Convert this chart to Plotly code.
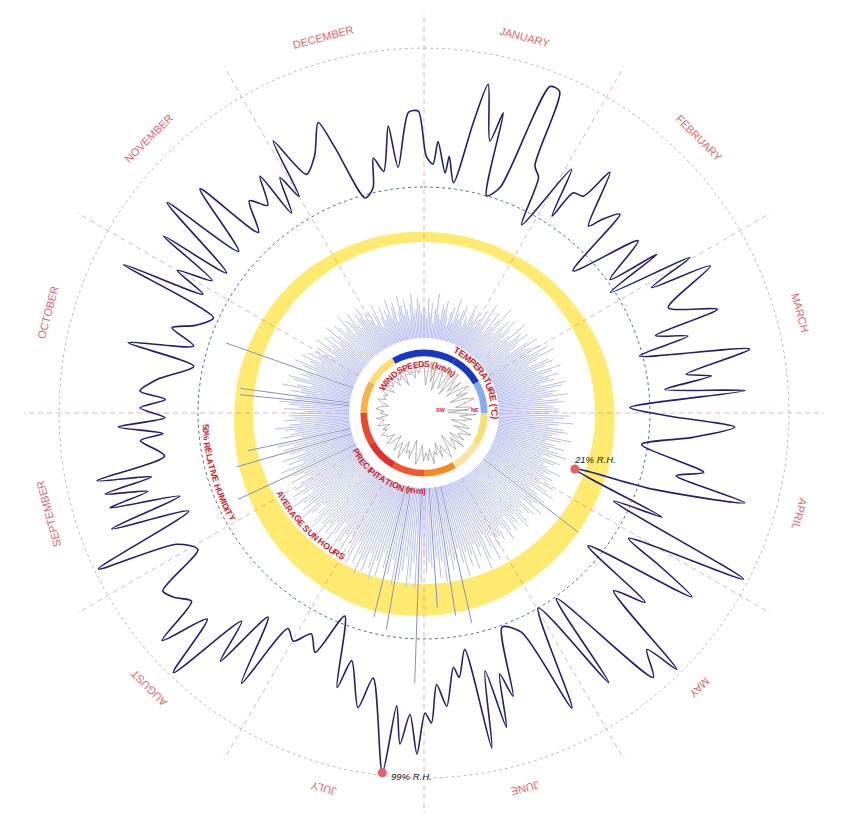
import math
import plotly.graph_objects as go

# ---------------- canvas / geometry ----------------
W, H = 848, 836
CX, CY = 424.0, 413.0          # centre of the radial chart (px)
RP = 400.0                     # radius of every polar subplot (px)
DOM = dict(x=[(CX - RP) / W, (CX + RP) / W], y=[(H - CY - RP) / H, (H - CY + RP) / H])

# ---------------- data ----------------
MONTHS = ["JANUARY", "FEBRUARY", "MARCH", "APRIL", "MAY", "JUNE",
          "JULY", "AUGUST", "SEPTEMBER", "OCTOBER", "NOVEMBER", "DECEMBER"]

# relative humidity (%) - day of year / value
rh_day = [0.5, 2.1, 3.0, 5.1, 5.7, 7.4, 9.8, 11.2, 13.8, 15.0,
          16.3, 18.9, 21.4, 23.2, 24.5, 26.3, 27.8, 31.6, 33.5, 34.6,
          36.8, 38.2, 41.9, 43.1, 45.2, 47.0, 51.9, 55.1, 56.5, 57.9,
          60.5, 62.0, 63.7, 67.6, 71.5, 72.5, 74.8, 76.2, 80.0, 82.7,
          83.8, 85.6, 87.2, 89.7, 91.9, 93.9, 96.5, 99.6, 103.4, 105.4,
          107.1, 109.9, 111.9, 115.2, 116.5, 119.1, 123.2, 124.7, 126.2, 130.8,
          132.4, 135.0, 137.3, 138.6, 141.0, 146.5, 147.6, 151.7, 155.5, 158.2,
          162.2, 164.8, 166.1, 167.6, 169.0, 170.9, 172.6, 174.8, 175.8, 178.0,
          179.8, 181.1, 182.3, 183.7, 185.2, 186.7, 187.9, 189.2, 193.5, 195.3,
          199.0, 200.3, 204.1, 207.3, 209.9, 212.7, 215.2, 217.0, 220.4, 222.4,
          224.3, 227.1, 229.6, 232.2, 234.2, 236.7, 239.0, 242.2, 245.4, 247.8,
          250.8, 253.1, 254.7, 256.7, 257.7, 259.3, 260.4, 261.9, 264.2, 268.1,
          269.2, 271.1, 272.7, 274.8, 276.8, 278.2, 281.0, 285.4, 287.3, 290.2,
          292.7, 295.0, 298.4, 300.4, 302.4, 304.2, 306.2, 308.4, 309.6, 313.6,
          315.4, 319.4, 321.9, 325.0, 327.5, 329.8, 331.0, 333.1, 334.6, 335.6,
          338.4, 341.7, 344.7, 346.2, 349.5, 352.1, 353.6, 355.4, 357.8, 358.9,
          362.0, 363.9, 365.5]
rh_pct = [61.1, 58.3, 66.5, 55.4, 61.5, 52.2, 75.0, 89.2, 69.4, 80.4,
          50.0, 54.3, 94.6, 94.2, 66.2, 62.9, 45.0, 71.2, 53.2, 64.4,
          65.5, 78.1, 58.3, 62.9, 69.1, 42.8, 67.6, 51.1, 70.1, 48.6,
          79.5, 62.2, 84.5, 64.4, 80.6, 56.5, 67.6, 48.9, 88.1, 64.0,
          73.0, 55.8, 84.5, 42.8, 56.1, 80.6, 65.8, 47.8, 71.6, 62.2,
          88.5, 55.8, 26.6, 62.2, 43.9, 98.2, 55.0, 70.1, 85.6, 44.6,
          73.4, 62.2, 98.2, 85.6, 94.6, 50.7, 86.3, 50.0, 87.4, 55.0,
          50.7, 75.5, 66.5, 85.6, 64.0, 91.7, 55.0, 64.7, 60.8, 74.5,
          66.5, 80.2, 76.6, 91.4, 77.3, 88.1, 74.5, 99.0, 65.8, 77.3,
          61.5, 72.3, 47.1, 63.3, 57.9, 63.3, 60.4, 86.0, 61.1, 84.2,
          68.3, 98.5, 76.3, 93.5, 76.3, 80.2, 82.4, 63.7, 69.4, 98.6,
          60.4, 88.5, 61.5, 86.7, 71.9, 87.0, 69.4, 88.8, 63.3, 71.2,
          62.9, 78.8, 61.9, 70.9, 61.9, 71.2, 65.5, 53.2, 78.1, 55.0,
          64.4, 56.8, 51.8, 89.2, 59.0, 71.2, 58.6, 82.0, 55.8, 88.1,
          57.2, 82.7, 56.8, 67.6, 62.2, 72.3, 55.0, 68.0, 58.6, 80.6,
          64.4, 69.4, 79.9, 69.4, 48.9, 51.8, 62.2, 56.8, 72.7, 57.6,
          77.0, 77.3, 61.1]

# average sun hours per month
sun_hours = [3.3, 4.3, 6.0, 7.0, 8.3, 10.0, 10.9, 9.2, 7.0, 5.8, 4.8, 3.7]

# mean temperature per month (deg C)
temp_c = [8.0, 9.0, 11.0, 14.0, 16.5, 20.0, 23.0, 26.0, 24.0, 19.0, 15.0, 9.5]

# daily precipitation (mm)
precip_jan = [6, 4, 8, 5, 7, 3, 6, 9, 5, 4, 7, 6, 8, 5, 3, 6, 7, 4, 9, 6, 5, 7, 8, 4, 6, 5, 9, 7, 6, 8, 5]
precip_feb = [7, 9, 6, 11, 8, 5, 10, 7, 9, 12, 6, 8, 10, 7, 11, 9, 6, 8, 12, 7, 10, 9, 11, 8, 6, 10, 12, 9]
precip_mar = [10, 12, 9, 13, 11, 14, 10, 8, 12, 13, 11, 9, 14, 12, 10, 13, 11, 12, 9, 14, 13, 10, 12, 11, 14, 9, 12, 13, 10, 11, 12]
precip_apr = [12, 10, 14, 13, 11, 15, 12, 10, 13, 14, 12, 11, 15, 13, 10, 12, 14, 11, 13, 15, 12, 10, 14, 13, 11, 12, 15, 13, 12, 14]
precip_may = [13, 11, 15, 12, 14, 16, 11, 13, 15, 24, 14, 13, 16, 11, 15, 14, 12, 13, 15, 16, 12, 14, 13, 15, 11, 14, 16, 13, 12, 15, 14]
precip_jun = [14, 16, 13, 18, 15, 12, 17, 19, 14, 16, 13, 18, 15, 17, 14, 19, 16, 13, 28, 15, 17, 14, 26, 19, 15, 18, 14, 24, 16, 15]
precip_jul = [17, 14, 19, 39, 20, 15, 18, 20, 14, 17, 19, 29, 20, 15, 18, 27, 17, 14, 19, 16, 20, 18, 15, 19, 17, 20, 16, 18, 14, 19, 17]
precip_aug = [15, 13, 17, 14, 16, 18, 12, 15, 17, 13, 16, 14, 18, 15, 13, 17, 16, 14, 12, 15, 17, 13, 16, 14, 15, 17, 12, 14, 16, 13, 15]
precip_sep = [13, 11, 15, 12, 14, 26, 13, 16, 11, 14, 12, 15, 10, 13, 24, 14, 12, 15, 21, 10, 14, 12, 11, 13, 15, 12, 10, 13, 11, 12]
precip_oct = [11, 9, 13, 10, 12, 14, 22, 11, 22, 9, 12, 10, 14, 11, 8, 12, 13, 9, 11, 10, 27, 8, 11, 13, 9, 10, 12, 8, 11, 9, 10]
precip_nov = [8, 10, 6, 9, 11, 7, 8, 10, 6, 9, 7, 11, 8, 6, 10, 9, 7, 8, 11, 6, 9, 8, 10, 7, 6, 9, 8, 10, 7, 8]
precip_dec = [6, 8, 5, 7, 9, 4, 6, 8, 5, 7, 6, 9, 5, 7, 8, 4, 6, 9, 7, 5, 8, 6, 4, 7, 9, 5, 6, 8, 7, 5, 6]
precip_mm = (precip_jan + precip_feb + precip_mar + precip_apr + precip_may + precip_jun +
             precip_jul + precip_aug + precip_sep + precip_oct + precip_nov + precip_dec)

# wind speed (km/h), every third day
wind_kmh = [12, 7, 11, 13, 8, 12, 6, 10, 13, 9, 7, 12, 11, 6, 13, 10, 8, 12, 7, 11,
            13, 9, 12, 7, 11, 13, 10, 8, 12, 11, 6, 13, 9, 12, 10, 7, 11, 12, 8, 13,
            11, 10, 12, 8, 13, 9, 11, 12, 7, 10, 13, 11, 9, 12, 8, 11, 10, 13, 9, 12,
            10, 12, 8, 11, 13, 9, 7, 12, 10, 11, 8, 13, 11, 9, 12, 10, 8, 11, 12, 9, 11,
            11, 12, 10, 11, 9, 12, 11, 10, 12, 9, 11, 10, 12, 11, 9, 11, 12, 10, 11, 10,
            12, 11, 9, 12, 10, 11, 12, 9, 11, 10, 12, 8, 11, 12, 10, 11, 9, 12, 10, 11, 12]
wind_day = list(range(0, 3 * len(wind_kmh), 3))

# ---------------- scales ----------------
RH_RANGE = [-31.3, 112.6]      # humidity polar
SUN_RANGE = [-57.0, 76.33]     # sun ring polar (0 h = inner edge of the ring)
PR_RANGE = [-15.0, 65.0]       # precipitation polar (0 mm = edge of white disc)
CT_RANGE = [0.0, 100.0]        # centre polar (wind / temperature ring)
YEAR = 365.0


def deg(day):
    return day * 360.0 / YEAR


def val_px(v, rng):
    return (v - rng[0]) / (rng[1] - rng[0]) * RP


def polar_px(theta_deg, r_px):
    t = math.radians(theta_deg)
    return CX + r_px * math.sin(t), CY - r_px * math.cos(t)


# ---------------- colours ----------------
HUM_LINE = "#1f1f78"
DOT_RED = "#ea5f68"
GRID_PINK = "rgba(228,110,120,0.55)"
MONTH_RED = "#e8646c"
LABEL_RED = "#d9202b"
SUN_YELLOW = "#feea6e"
BAR_LIGHT = "#b6bdf1"
BAR_DARK = "#8690c4"
FONT = "Liberation Sans, Arial, sans-serif"


def temp_color(t):
    if t < 10:
        return "#1737c4"
    if t < 13:
        return "#86adee"
    if t < 16:
        return "#fcdd72"
    if t < 18:
        return "#f9e3a3"
    if t < 20:
        return "#f7b347"
    if t < 22:
        return "#f68a1e"
    if t < 24:
        return "#f1582c"
    if t < 25.5:
        return "#ee482b"
    return "#e42f2a"


def polar_layout(rng, hole=0.0, grid=False):
    aa = dict(rotation=90, direction="clockwise", showline=False,
              showticklabels=False, ticks="", showgrid=grid)
    if grid:
        aa.update(tickmode="linear", tick0=0, dtick=30, gridcolor=GRID_PINK,
                  gridwidth=1, griddash="5px,4px")
    return dict(domain=DOM, bgcolor="rgba(0,0,0,0)", hole=hole,
                radialaxis=dict(visible=False, range=rng),
                angularaxis=aa)


fig = go.Figure()

# ---- sun hours ring (bottom layer) ----
month_mid = [15 + 30 * i for i in range(12)]
fig.add_trace(go.Scatterpolar(
    r=sun_hours + [sun_hours[0]], theta=month_mid + [month_mid[0] + 360],
    mode="lines", line=dict(shape="spline", color=SUN_YELLOW, width=0.5),
    fill="toself", fillcolor=SUN_YELLOW, subplot="polar", hoverinfo="skip"))
circ = list(range(0, 361, 2))
fig.add_trace(go.Scatterpolar(
    r=[0] * len(circ), theta=circ, mode="lines", line=dict(color="white", width=0),
    fill="toself", fillcolor="white", subplot="polar", hoverinfo="skip"))

# ---- dashed month spokes ----
fig.add_trace(go.Scatterpolar(r=[0], theta=[0], mode="markers",
                              marker=dict(opacity=0), subplot="polar2", hoverinfo="skip"))

# ---- humidity ----
fig.add_trace(go.Scatterpolar(r=[100] * len(circ), theta=circ, mode="lines",
                              line=dict(color="#b9bccb", width=1, dash="dot"),
                              subplot="polar3", hoverinfo="skip"))
fig.add_trace(go.Scatterpolar(r=[50] * len(circ), theta=circ, mode="lines",
                              line=dict(color="#4b7895", width=1, dash="dot"),
                              subplot="polar3", hoverinfo="skip"))
fig.add_trace(go.Scatterpolar(
    r=rh_pct, theta=[deg(d) for d in rh_day], mode="lines",
    line=dict(color=HUM_LINE, width=1.6, shape="spline", smoothing=0.75),
    subplot="polar3", hoverinfo="skip"))
i_min = rh_pct.index(min(rh_pct))
i_max = rh_pct.index(max(rh_pct))
fig.add_trace(go.Scatterpolar(
    r=[rh_pct[i_min], rh_pct[i_max]], theta=[deg(rh_day[i_min]), deg(rh_day[i_max])],
    mode="markers", marker=dict(color=DOT_RED, size=9), subplot="polar3", hoverinfo="skip"))

# ---- precipitation spokes ----
for dark in (False, True):
    rr, tt = [], []
    for i, v in enumerate(precip_mm):
        if (v > 20.5) == dark:
            t = deg(i + 0.5)
            rr += [0, v, None]
            tt += [t, t, None]
    fig.add_trace(go.Scatterpolar(
        r=rr, theta=tt, mode="lines",
        line=dict(color=BAR_DARK if dark else BAR_LIGHT, width=1),
        subplot="polar4", hoverinfo="skip"))

# ---- centre: temperature ring + wind ----
fig.add_trace(go.Barpolar(
    r=[1.7] * 12, base=[14.2] * 12, theta=month_mid, width=[30] * 12,
    marker=dict(color=[temp_color(t) for t in temp_c], line=dict(width=0)),
    subplot="polar5", hoverinfo="skip"))
fig.add_trace(go.Scatterpolar(r=[10.5] * len(circ), theta=circ, mode="lines",
                              line=dict(color="#c8c8c8", width=0.8, dash="dot"),
                              subplot="polar5", hoverinfo="skip"))
fig.add_trace(go.Scatterpolar(
    r=wind_kmh + [wind_kmh[0]], theta=[deg(d) for d in wind_day] + [360],
    mode="lines", line=dict(color="#858585", width=0.6),
    subplot="polar5", hoverinfo="skip"))

# ---------------- annotations ----------------
ann = []


def add_text(x, y, text, size, color, angle=0, xanchor="center", italic=False, bold=False):
    if bold:
        text = "<b>" + text + "</b>"
    if italic:
        text = "<i>" + text + "</i>"
    ann.append(dict(x=x / W, y=1 - y / H, xref="paper", yref="paper", text=text,
                    textangle=angle, showarrow=False, xanchor=xanchor, yanchor="middle",
                    font=dict(size=size, color=color, family=FONT)))


def norm(a):
    return ((a + 180) % 360) - 180


for i, m in enumerate(MONTHS):
    th = month_mid[i]
    x, y = polar_px(th, 389)
    add_text(x, y, m, 11, MONTH_RED, angle=norm(th))

CW = {"A": .72, "B": .72, "C": .72, "D": .72, "E": .67, "F": .61, "G": .78, "H": .72,
      "I": .28, "J": .56, "K": .72, "L": .61, "M": .83, "N": .72, "O": .78, "P": .67,
      "Q": .78, "R": .72, "S": .67, "T": .61, "U": .72, "V": .67, "W": .94, "X": .67,
      "Y": .67, "Z": .61, " ": .28, "(": .33, ")": .33, "%": .89, "°": .4, "/": .28,
      "m": .89, "k": .56, "h": .61}


def arc_text(text, r_px, th0, th1, flip, max_size=10.0):
    ws = [CW.get(c, 0.56) for c in text]
    centers, acc = [], 0.0
    for w in ws:
        centers.append(acc + w / 2)
        acc += w
    span = centers[-1] - centers[0]
    arc_px = abs(math.radians(th1 - th0)) * r_px
    size = min(max_size, 1.06 * arc_px / span)
    for c, p in zip(text, centers):
        if c == " ":
            continue
        th = th0 + (p - centers[0]) / span * (th1 - th0)
        x, y = polar_px(th, r_px)
        add_text(x, y, c, size, LABEL_RED, angle=norm(th - 180 if flip else th), bold=True)


arc_text("TEMPERATURE (°C)", 71, 28, 94, False)
arc_text("WIND SPEEDS (km/h)", 49, 304, 397, False)
arc_text("PRECIPITATION (mm)", 78, 240, 179.5, True)
arc_text("AVERAGE SUN HOURS", 165, 240.5, 210, True)
arc_text("50% RELATIVE HUMIDITY", 219, 266.5, 241.5, True)

# humidity extreme labels
xmin, ymin = polar_px(deg(rh_day[i_min]), val_px(rh_pct[i_min], RH_RANGE))
add_text(xmin - 3, ymin - 10, "21% R.H.", 9.5, "#222222", xanchor="left", italic=True)
xmax, ymax = polar_px(deg(rh_day[i_max]), val_px(rh_pct[i_max], RH_RANGE))
add_text(xmax + 7, ymax + 4, "99% R.H.", 9.5, "#222222", xanchor="left", italic=True)

# wind direction marker
add_text(CX + 17, CY - 3, "SW", 5.5, LABEL_RED, bold=True)
add_text(CX + 51, CY - 3, "NE", 5.5, LABEL_RED, bold=True)
shapes = [dict(type="line", xref="paper", yref="paper",
               x0=(CX + 23) / W, x1=(CX + 45) / W, y0=1 - (CY - 3) / H, y1=1 - (CY - 3) / H,
               line=dict(color="#8a8a8a", width=0.8))]

fig.update_layout(
    width=W, height=H, margin=dict(l=0, r=0, t=0, b=0),
    paper_bgcolor="white", plot_bgcolor="white", showlegend=False,
    polar=polar_layout(SUN_RANGE),
    polar2=polar_layout([0, 1], hole=75 / RP, grid=True),
    polar3=polar_layout(RH_RANGE),
    polar4=polar_layout(PR_RANGE),
    polar5=polar_layout(CT_RANGE),
    annotations=ann, shapes=shapes,
)

fig.write_html("out.html", config={"displayModeBar": False, "staticPlot": True},
               post_script="document.body.style.margin='0px';")
